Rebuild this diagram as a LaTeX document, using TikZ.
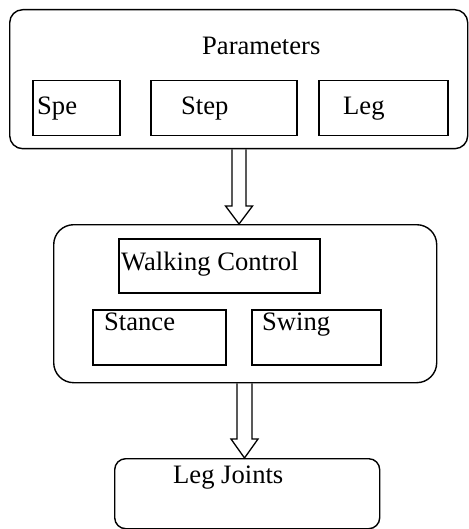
\documentclass[tikz,border=0pt]{standalone}
\usepackage{fontspec}
\setmainfont{Liberation Serif}
\usetikzlibrary{calc}
\begin{document}
\begin{tikzpicture}[x=1pt,y=-1pt,
  outerbox/.style={draw, line width=1.4pt, rounded corners=#1, anchor=north west, inner sep=0pt},
  innerbox/.style={draw, line width=1.5pt, anchor=north west, inner sep=0pt},
  lbl/.style={anchor=base west, inner sep=0pt, font=\fontsize{26.6}{30}\selectfont},
  hollow/.style={draw, line width=1.3pt, line join=miter}]
\useasboundingbox (0,0) rectangle (468,529);

% outer rounded frames
\node[outerbox=13pt, minimum width=458pt, minimum height=139pt] (params) at (9,9) {};
\node[outerbox=20pt, minimum width=383pt, minimum height=158pt] (walk) at (53,224) {};
\node[outerbox=11pt, minimum width=265pt, minimum height=70pt] (joints) at (114,458) {};

% inner boxes of the parameter block
\node[innerbox, minimum width=87pt, minimum height=55pt] (spe) at (32,80) {};
\node[innerbox, minimum width=146pt, minimum height=55pt] (step) at (150,80) {};
\node[innerbox, minimum width=129pt, minimum height=55pt] (leg) at (318,80) {};

% inner boxes of the walking control block
\node[innerbox, minimum width=201pt, minimum height=54pt] (ctrl) at (118,238) {};
\node[innerbox, minimum width=133pt, minimum height=55pt] (stance) at (92,309) {};
\node[innerbox, minimum width=129pt, minimum height=55pt] (swing) at (251,309) {};

% labels
\node[lbl] (tparams) at (202,55) {Parameters};
\node[lbl] (tspe) at (37,115) {Spe};
\node[lbl] (tstep) at (181,115) {Step};
\node[lbl] (tleg) at (343,115) {Leg};
\node[lbl] (tctrl) at (121,270) {Walking Control};
\node[lbl] (tstance) at (104,330) {Stance};
\node[lbl] (tswing) at (262,330) {Swing};
\node[lbl] (tjoints) at (173,483) {Leg Joints};

% hollow block arrows between the stages
\coordinate (ax1) at (239,0);
\coordinate (ax2) at (244.5,0);
\draw[hollow] let \p1=(params.south -| ax1), \p2=(walk.north -| ax1) in
  (\x1-7pt,\y1) -- (\x1-7pt,\y2+18pt) -- (\x1-13.5pt,\y2+18pt) -- (\x2,\y2)
  -- (\x1+13.5pt,\y2+18pt) -- (\x1+7pt,\y2+18pt) -- (\x1+7pt,\y1);
\draw[hollow] let \p1=(walk.south -| ax2), \p2=(joints.north -| ax2) in
  (\x1-7.5pt,\y1) -- (\x1-7.5pt,\y2+19pt) -- (\x1-13.5pt,\y2+19pt) -- (\x2,\y2)
  -- (\x1+13.5pt,\y2+19pt) -- (\x1+7.5pt,\y2+19pt) -- (\x1+7.5pt,\y1);
\end{tikzpicture}
\end{document}
